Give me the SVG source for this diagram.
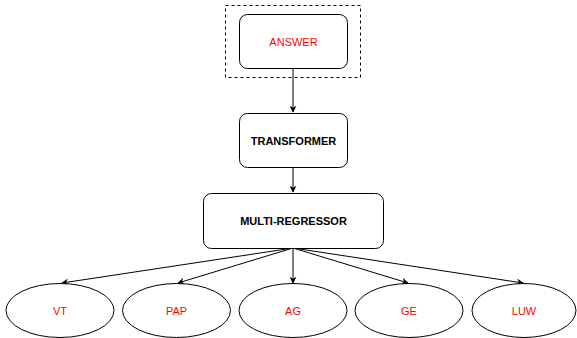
<svg xmlns="http://www.w3.org/2000/svg" width="577" height="338" viewBox="0 0 577 338">
<style>
.box{fill:#fff;stroke:#000;stroke-width:1}
.ell{fill:#fff;stroke:#000;stroke-width:1}
.red{font-family:"Liberation Sans",Arial,sans-serif;font-size:11px;fill:#ff0000;text-anchor:middle;dominant-baseline:central}
.bold{font-family:"Liberation Sans",Arial,sans-serif;font-size:11px;font-weight:bold;fill:#000;text-anchor:middle;dominant-baseline:central}
.edge{stroke:#000;stroke-width:1;fill:none;marker-end:url(#arr)}
</style>
<defs>
<marker id="arr" viewBox="0 0 10 10" refX="9" refY="5" markerWidth="7" markerHeight="7" markerUnits="userSpaceOnUse" orient="auto">
<path d="M0,0 L10,5 L0,10 L3,5 Z" fill="#000"/>
</marker>
</defs>
<rect x="225.5" y="5.5" width="135" height="72" fill="none" stroke="#000" stroke-dasharray="3,3"/>
<g id="connectors">
<line class="edge" x1="293" y1="68" x2="293" y2="112"/>
<line class="edge" x1="293" y1="167" x2="293" y2="192"/>
<line class="edge" x1="293" y1="248" x2="62" y2="283"/>
<line class="edge" x1="293" y1="248" x2="178" y2="283"/>
<line class="edge" x1="293" y1="248" x2="293" y2="283"/>
<line class="edge" x1="293" y1="248" x2="408" y2="283"/>
<line class="edge" x1="293" y1="248" x2="523" y2="283"/>
</g>
<g id="answer"><rect class="box" x="239.5" y="14.5" width="108" height="54" rx="8"/><text class="red" x="293.5" y="41.5">ANSWER</text></g>
<g id="transformer"><rect class="box" x="239.5" y="113.5" width="108" height="54" rx="8"/><text class="bold" x="293.5" y="140.5" font-size="10">TRANSFORMER</text></g>
<g id="multi"><rect class="box" x="203.5" y="193.5" width="180" height="55" rx="8"/><text class="bold" x="293.5" y="221">MULTI-REGRESSOR</text></g>
<g id="vt"><ellipse class="ell" cx="60" cy="310.5" rx="54" ry="27"/><text class="red" x="60" y="310.5">VT</text></g>
<g id="pap"><ellipse class="ell" cx="176.5" cy="310.5" rx="54" ry="27"/><text class="red" x="176.5" y="310.5">PAP</text></g>
<g id="ag"><ellipse class="ell" cx="293" cy="310.5" rx="54" ry="27"/><text class="red" x="293" y="310.5">AG</text></g>
<g id="ge"><ellipse class="ell" cx="409" cy="310.5" rx="54" ry="27"/><text class="red" x="409" y="310.5">GE</text></g>
<g id="luw"><ellipse class="ell" cx="524" cy="310.5" rx="52" ry="27"/><text class="red" x="524" y="310.5">LUW</text></g>
</svg>
